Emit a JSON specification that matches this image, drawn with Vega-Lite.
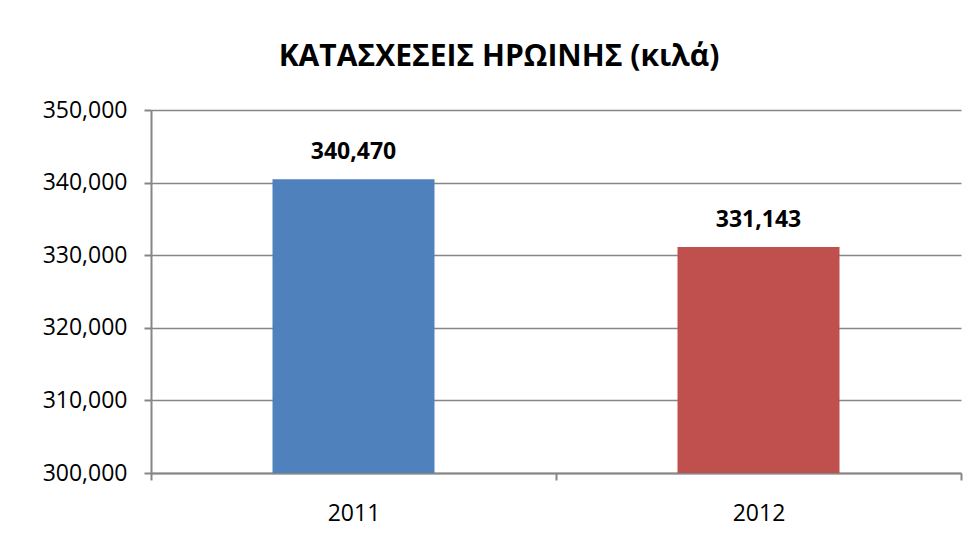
{
  "$schema": "https://vega.github.io/schema/vega-lite/v6.json",
  "autosize": {"type": "none"},
  "padding": {"left": 151, "top": 110, "right": 15, "bottom": 81},
  "width": 810,
  "height": 363,
  "background": "white",
  "title": {
    "text": "ΚΑΤΑΣΧΕΣΕΙΣ ΗΡΩΙΝΗΣ (κιλά)",
    "font": "Open Sans",
    "fontSize": 30,
    "fontWeight": "bold",
    "color": "black",
    "anchor": "middle",
    "dx": -57,
    "offset": 27
  },
  "data": {
    "values": [
      {"year": "2011", "value": 340470},
      {"year": "2012", "value": 331143}
    ]
  },
  "encoding": {
    "x": {
      "field": "year",
      "type": "nominal",
      "scale": {"paddingInner": 0, "paddingOuter": 0},
      "axis": {
        "title": null,
        "labelAngle": 0,
        "labelFont": "Open Sans",
        "labelFontSize": 23,
        "labelColor": "black",
        "labelPadding": 22,
        "tickBand": "extent",
        "tickSize": 7,
        "tickColor": "#868686",
        "tickWidth": 2,
        "domainColor": "#868686",
        "domainWidth": 2,
        "grid": false
      }
    },
    "y": {
      "field": "value",
      "type": "quantitative",
      "scale": {"domain": [300000, 350000], "zero": false, "nice": false},
      "axis": {
        "title": null,
        "values": [300000, 310000, 320000, 330000, 340000, 350000],
        "format": ",d",
        "labelFont": "Open Sans",
        "labelFontSize": 23,
        "labelColor": "black",
        "labelPadding": 17,
        "tickSize": 7,
        "tickColor": "#868686",
        "tickWidth": 2,
        "domainColor": "#868686",
        "domainWidth": 2,
        "grid": true,
        "gridColor": "#868686",
        "gridWidth": 1.5
      }
    }
  },
  "layer": [
    {
      "mark": {"type": "bar", "clip": true, "width": {"band": 0.4}},
      "encoding": {
        "color": {
          "field": "year",
          "type": "nominal",
          "scale": {"domain": ["2011", "2012"], "range": ["#4F81BD", "#C0504D"]},
          "legend": null
        }
      }
    },
    {
      "mark": {
        "type": "text",
        "dy": -20,
        "font": "Open Sans",
        "fontSize": 23,
        "fontWeight": "bold",
        "color": "black",
        "baseline": "alphabetic"
      },
      "encoding": {
        "text": {"field": "value", "type": "quantitative", "format": ","}
      }
    }
  ],
  "config": {"view": {"stroke": null}}
}
